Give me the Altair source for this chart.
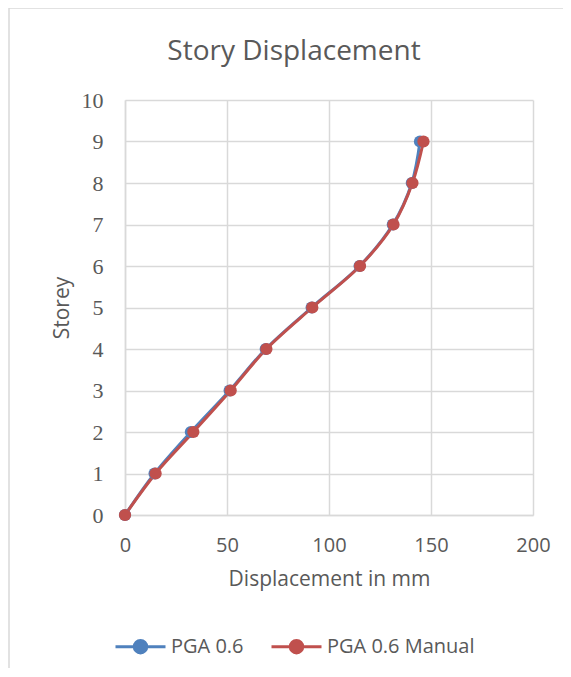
import altair as alt
import pandas as pd

storey = [0, 1, 2, 3, 4, 5, 6, 7, 8, 9]
pga = [0, 14.5, 32.3, 51.3, 69.0, 91.5, 115.0, 131.3, 140.6, 144.6]
pga_manual = [0, 15.0, 33.5, 51.8, 69.3, 91.8, 115.2, 131.6, 140.9, 146.3]
series = ["PGA 0.6", "PGA 0.6 Manual"]
colors = ["#4F81BD", "#C0504D"]

df = pd.concat([
    pd.DataFrame({"disp": pga, "storey": storey, "series": series[0]}),
    pd.DataFrame({"disp": pga_manual, "storey": storey, "series": series[1]}),
])

sym = "M-1,0L-0.25,0M0.25,0L1,0M-0.25,0A0.25,0.25 0 1,0 0.25,0A0.25,0.25 0 1,0 -0.25,0Z"

color = alt.Color(
    "series:N",
    scale=alt.Scale(domain=series, range=colors),
    legend=alt.Legend(
        title=None, orient="none", direction="horizontal",
        legendX=-11, legendY=520, symbolType=sym, symbolSize=2500,
        symbolStrokeWidth=3, labelFont="Open Sans",
        labelFontSize=20, labelColor="#595959", labelOffset=4,
        columnPadding=21, padding=0,
    ),
)

x = alt.X("disp:Q", scale=alt.Scale(domain=[0, 200]),
          axis=alt.Axis(title="Displacement in mm", values=[0, 50, 100, 150, 200],
                        labelFlush=False, labelFontSize=20))
y = alt.Y("storey:Q", scale=alt.Scale(domain=[0, 10]),
          axis=alt.Axis(title="Storey", values=list(range(11)), labelFont="Liberation Serif",
                        labelFontSize=22, titlePadding=9, labelPadding=22))

base = alt.Chart(df)
line = base.mark_line(strokeWidth=3, interpolate="catmull-rom").encode(
    x=x, y=y, color=color, order="storey:Q")
pts = base.mark_point(filled=True, size=150, opacity=1).encode(x=x, y=y, color=color)

frame = alt.Chart(pd.DataFrame({"a": [0]})).mark_rect(
    fill=None, stroke="#d9d9d9", strokeWidth=1.5, clip=False
).encode(x=alt.value(-116), x2=alt.value(446), y=alt.value(-92), y2=alt.value(600))

chart = alt.layer(frame, line, pts).properties(
    width=408, height=415,
    title=alt.TitleParams("Story Displacement", font="Open Sans", fontSize=28,
                          fontWeight="normal", color="#595959", anchor="middle",
                          offset=-59, dx=-35),
    autosize=alt.AutoSizeParams(type="none"),
    padding={"left": 117, "top": 92, "right": 30, "bottom": 153},
).configure_view(stroke=None).configure_axis(
    grid=True, gridColor="#d9d9d9", gridWidth=1.5, domainColor="#d9d9d9", domainWidth=1.5,
    ticks=False, labelPadding=20, labelColor="#595959", labelFont="Open Sans",
    titleFont="Open Sans", titleFontSize=21, titleFontWeight="normal",
    titleColor="#595959",
).configure_axisX(titlePadding=13)

chart.save("out.html", embed_options={"renderer": "svg", "actions": False})
